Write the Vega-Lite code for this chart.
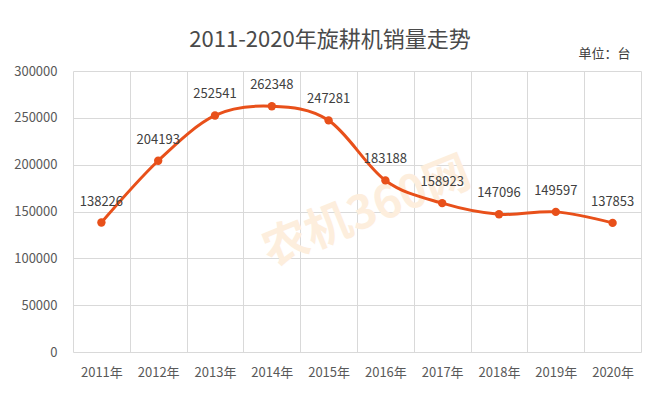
{
  "$schema": "https://vega.github.io/schema/vega-lite/v6.json",
  "width": 568,
  "height": 281,
  "autosize": {"type": "none"},
  "padding": {"left": 73, "top": 71, "right": 19, "bottom": 47},
  "background": "white",
  "config": {
    "font": "Noto Sans CJK SC",
    "view": {"stroke": null},
    "axis": {"gridColor": "#d9d9d9", "gridWidth": 1, "domain": false, "ticks": false, "labelColor": "#595959", "labelFontSize": 13, "labelFont": "Noto Sans CJK SC"}
  },
  "title": {"text": "2011-2020年旋耕机销量走势", "fontSize": 22, "fontWeight": "normal", "color": "#4a4a4a", "anchor": "middle", "frame": "group", "dx": -27, "offset": -4},
  "data": {"values": [
    {"year": "2011年", "sales": 138226},
    {"year": "2012年", "sales": 204193},
    {"year": "2013年", "sales": 252541},
    {"year": "2014年", "sales": 262348},
    {"year": "2015年", "sales": 247281},
    {"year": "2016年", "sales": 183188},
    {"year": "2017年", "sales": 158923},
    {"year": "2018年", "sales": 147096},
    {"year": "2019年", "sales": 149597},
    {"year": "2020年", "sales": 137853}
  ]},
  "encoding": {
    "x": {"field": "year", "type": "nominal", "sort": null, "title": null,
      "scale": {"domain": ["2011年", "2012年", "2013年", "2014年", "2015年", "2016年", "2017年", "2018年", "2019年", "2020年"], "paddingInner": 0, "paddingOuter": 0},
      "axis": {"labelAngle": 0, "tickBand": "extent", "grid": true, "labelPadding": 14}},
    "y": {"field": "sales", "type": "quantitative", "title": null,
      "scale": {"domain": [0, 300000], "nice": false},
      "axis": {"values": [0, 50000, 100000, 150000, 200000, 250000, 300000], "format": "d", "labelPadding": 16}}
  },
  "layer": [
    {"transform": [{"filter": "datum.year == '2016年'"}],
     "mark": {"type": "text", "angle": -22, "fontSize": 46, "fontWeight": "bold", "color": "#fdeedd", "dx": -20},
     "encoding": {"x": {"datum": "2016年"}, "y": {"datum": 157000}, "text": {"value": "农机360网"}}},
    {"mark": {"type": "line", "color": "#E8501A", "strokeWidth": 3, "interpolate": "cardinal"}},
    {"mark": {"type": "point", "filled": true, "color": "#E8501A", "size": 70, "opacity": 1}},
    {"mark": {"type": "text", "fontSize": 13, "color": "#404040", "dy": -21},
     "encoding": {"text": {"field": "sales", "type": "quantitative", "format": "d"}}},
    {"transform": [{"filter": "datum.year == '2020年'"}],
     "mark": {"type": "text", "fontSize": 13, "fontWeight": 400, "color": "#404040", "align": "right", "dx": 18, "dy": -17},
     "encoding": {"x": {"datum": "2020年"}, "y": {"datum": 300000}, "text": {"value": "单位：台"}}}
  ]
}
